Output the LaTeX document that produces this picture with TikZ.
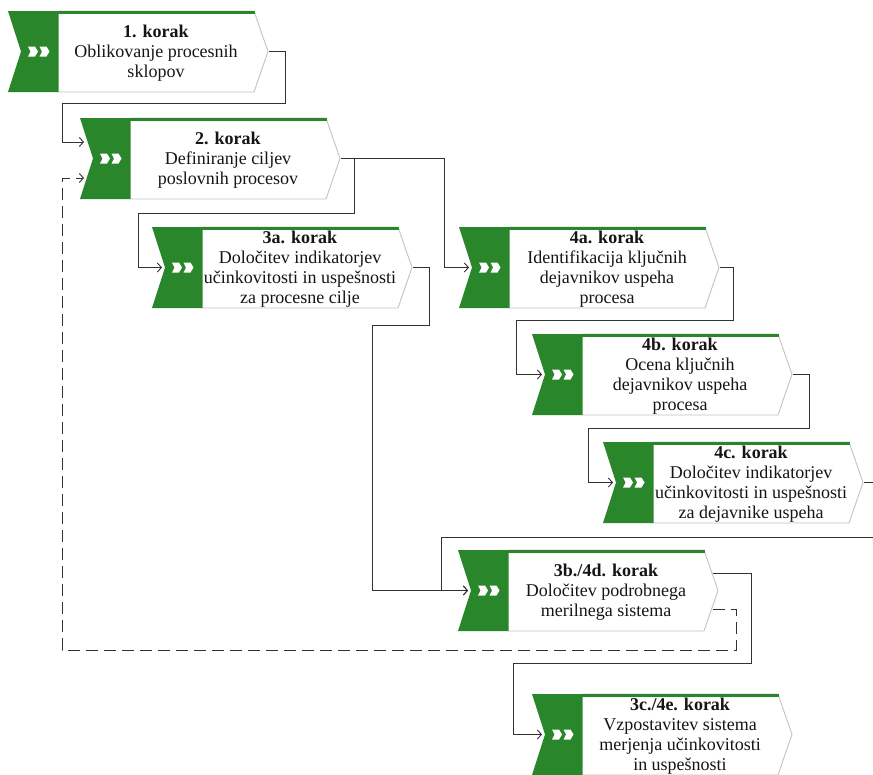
\documentclass[tikz,border=0pt]{standalone}
\usepackage{fontspec}
\setmainfont{Liberation Serif}
\usetikzlibrary{arrows.meta}
\definecolor{kgreen}{RGB}{42,134,42}
\definecolor{kgray}{RGB}{195,195,195}
\definecolor{kline}{RGB}{50,50,50}
\definecolor{ktext}{RGB}{25,20,20}
\tikzset{
  steptext/.style={font={\fontsize{18}{20}\selectfont}, text=ktext, align=center, inner sep=0pt},
  conn/.style={draw=kline, line width=0.9pt, -{Straight Barb[length=4pt,width=9pt]}},
  dashconn/.style={conn, dash pattern=on 12pt off 6pt},
  chev/.style={fill=white, draw=none}
}
\newcommand\korak[4]{%
  \begin{scope}[shift={(#2,#3)}]
    \filldraw[fill=white, draw=kgray, line width=0.9pt] (50,0) -- (246,0) -- (260,40.5) -- (246,81) -- (50,81);
    \draw[kgreen, line width=3pt] (50,1.5) -- (246.5,1.5);
    \fill[kgreen] (0,0) -- (50.5,0) -- (50.5,81) -- (0,81) -- (13,40.5) -- cycle;
    \fill[chev] (20,35.5) -- (27,35.5) -- (30,40.5) -- (27,45.5) -- (20,45.5) -- (22.5,40.5) -- cycle;
    \fill[chev] (31.5,35.5) -- (38.5,35.5) -- (41.5,40.5) -- (38.5,45.5) -- (31.5,45.5) -- (34,40.5) -- cycle;
    \node[steptext] (#1) at (148,42.5) {#4};
    \coordinate (#1-out) at (261,40.5);
    \coordinate (#1-outA) at (255,23);
    \coordinate (#1-outB) at (255,59);
    \coordinate (#1-in) at (10,40.5);
    \coordinate (#1-inA) at (4,24);
    \coordinate (#1-inB) at (4,60);
  \end{scope}}
\begin{document}
\begin{tikzpicture}[x=1pt, y=-1pt]
\useasboundingbox (0,0) rectangle (873,774);
\clip (0,0) rectangle (873,774);
\fill[white] (0,0) rectangle (873,774);

\korak{s1}{8}{11}{\textbf{1. korak}\\Oblikovanje procesnih\\sklopov}
\korak{s2}{80}{118}{\textbf{2. korak}\\Definiranje ciljev\\poslovnih procesov}
\korak{s3a}{152}{227}{\textbf{3a. korak}\\Določitev indikatorjev\\učinkovitosti in uspešnosti\\za procesne cilje}
\korak{s4a}{459}{227}{\textbf{4a. korak}\\Identifikacija ključnih\\dejavnikov uspeha\\procesa}
\korak{s4b}{532}{334}{\textbf{4b. korak}\\Ocena ključnih\\dejavnikov uspeha\\procesa}
\korak{s4c}{603}{442}{\textbf{4c. korak}\\Določitev indikatorjev\\učinkovitosti in uspešnosti\\za dejavnike uspeha}
\korak{s3b}{458}{550}{\textbf{3b./4d. korak}\\Določitev podrobnega\\merilnega sistema}
\korak{s3c}{532}{694}{\textbf{3c./4e. korak}\\Vzpostavitev sistema\\merjenja učinkovitosti\\in uspešnosti}

% connectors
\draw[conn] (s1-out) -| (285,103) -| (62,142) -- (s2-inA);
\draw[dashconn] (s3b-outB) -| (736,650) -| (62,178) -- (s2-inB);
\draw[conn] (s2-out) -| (354,213) -| (138,267.5) -- (s3a-in);
\draw[conn] (s2-out) -| (444,267.5) -- (s4a-in);
\draw[conn] (s3a-out) -| (429,325) -| (372,590.5) -- (s3b-in);
\draw[conn] (s4a-out) -| (733,320) -| (516,374.5) -- (s4b-in);
\draw[conn] (s4b-out) -| (809,428) -| (588,482.5) -- (s4c-in);
\draw[conn] (s4c-out) -| (890,537) -| (441,590.5) -- (s3b-in);
\draw[conn] (s3b-outA) -| (751,663) -| (513,734.5) -- (s3c-in);
\end{tikzpicture}
\end{document}
